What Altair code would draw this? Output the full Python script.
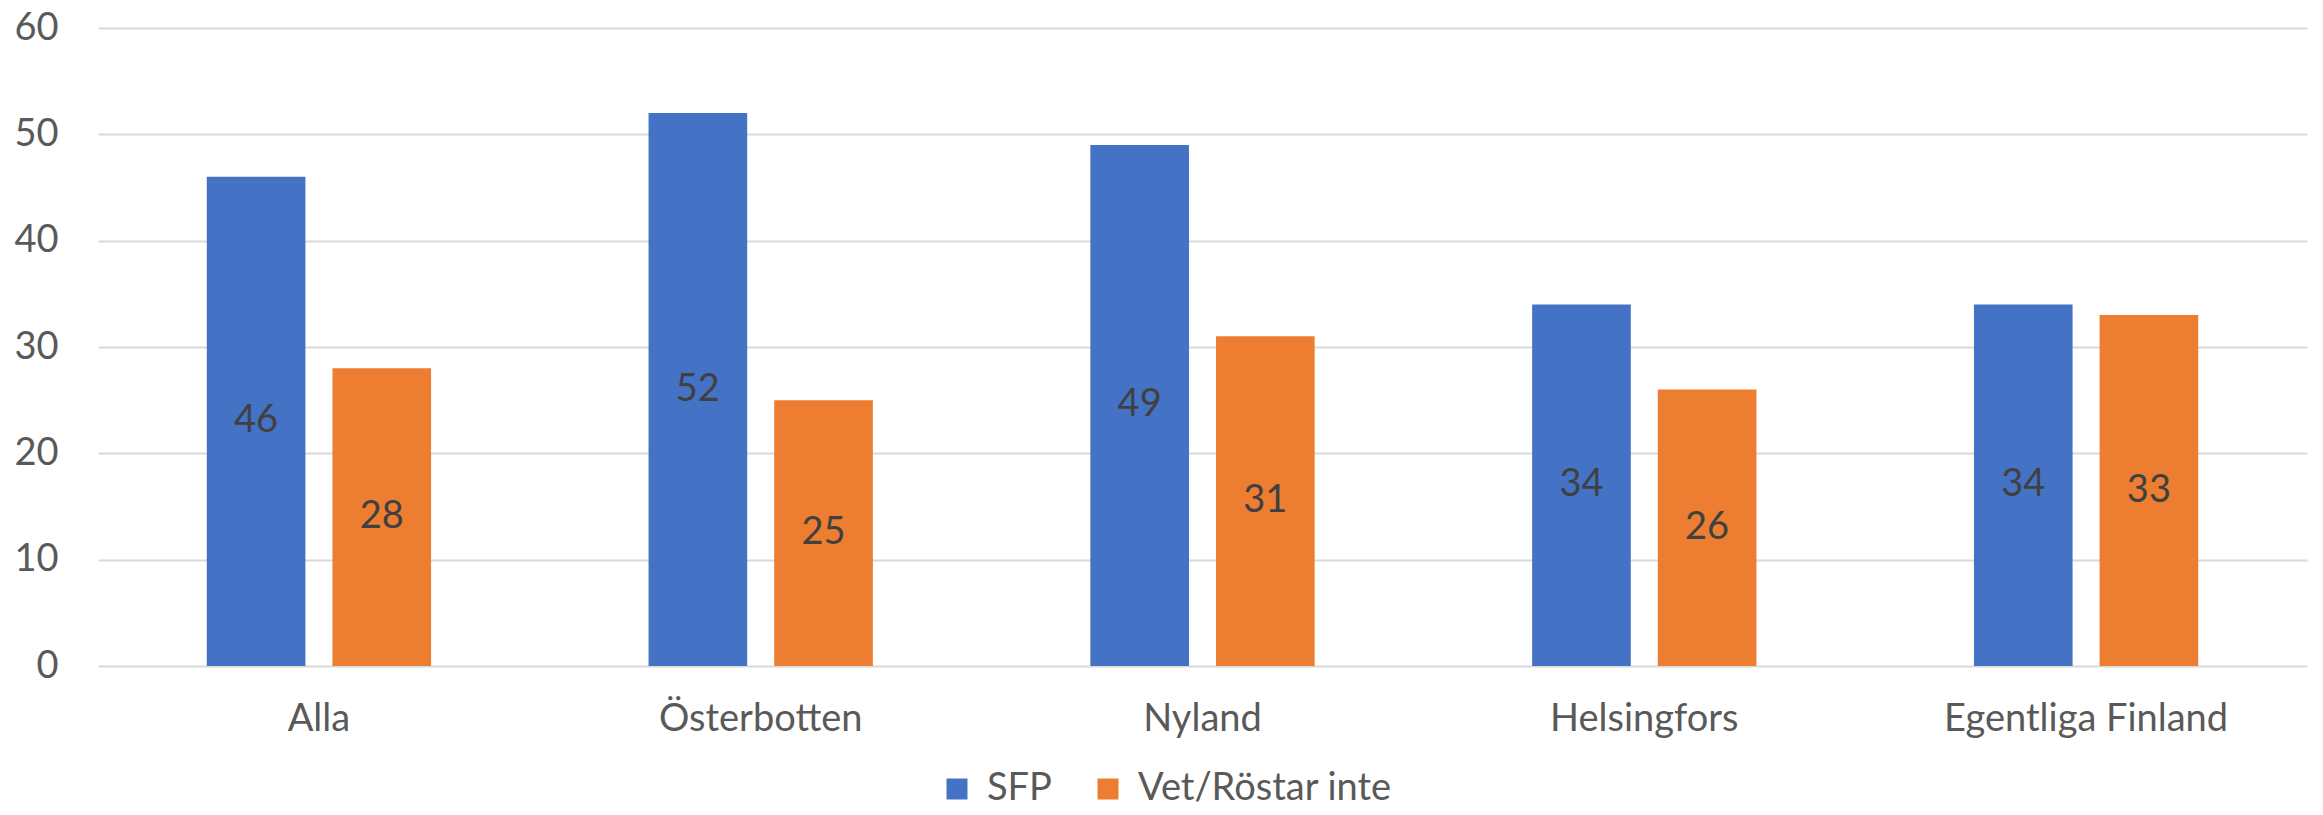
import altair as alt
import pandas as pd

categories = ["Alla", "Österbotten", "Nyland", "Helsingfors", "Egentliga Finland"]
series = ["SFP", "Vet/Röstar inte"]
sfp = [46, 52, 49, 34, 34]
vet = [28, 25, 31, 26, 33]
y_ticks = [0, 10, 20, 30, 40, 50, 60]
colors = ["#4472C4", "#ED7D31"]

rows = []
for c, a, b in zip(categories, sfp, vet):
    rows.append({"region": c, "serie": series[0], "value": a})
    rows.append({"region": c, "serie": series[1], "value": b})
df = pd.DataFrame(rows)

FONT = "Lato"
FS = 38

x = alt.X("region:N", sort=categories, title=None,
          scale=alt.Scale(paddingInner=0.4923, paddingOuter=0.2462),
          axis=alt.Axis(labelAngle=0, labelFontSize=FS, labelColor="#595959",
                        labelFont=FONT, labelPadding=34, ticks=False,
                        domain=False, grid=False, labelLimit=0))
xo = alt.XOffset("serie:N", sort=series,
                 scale=alt.Scale(paddingInner=0.215, paddingOuter=0))
color = alt.Color("serie:N", sort=series,
                  scale=alt.Scale(domain=series, range=colors),
                  legend=alt.Legend(title=None, orient="none", legendX=840, legendY=742,
                                    direction="horizontal", symbolType="square",
                                    symbolSize=441, symbolStrokeWidth=0,
                                    labelFontSize=FS, labelFont=FONT,
                                    labelColor="#595959", columnPadding=37,
                                    padding=0, labelOffset=11, labelLimit=0))

bars = alt.Chart(df).mark_bar().encode(
    x=x, xOffset=xo,
    y=alt.Y("value:Q", title=None,
            scale=alt.Scale(domain=[0, 60], nice=False),
            axis=alt.Axis(values=y_ticks, title=None, ticks=False, domain=False,
                          gridColor="#d9d9d9", gridWidth=2, labelFontSize=FS,
                          labelColor="#595959", labelFont=FONT, labelPadding=40)),
    color=color,
)

text = alt.Chart(df).transform_calculate(mid="datum.value/2").mark_text(
    fontSize=FS, font=FONT, color="#404040", baseline="middle"
).encode(
    x=x, xOffset=xo,
    y=alt.Y("mid:Q", title=None),
    text="value:Q",
)

chart = alt.layer(bars, text).properties(
    width=2209, height=638,
    autosize=alt.AutoSizeParams(type="none"),
    padding={"left": 90, "top": 20, "right": 8, "bottom": 141},
    background="white",
).configure_view(stroke=None)

chart.save("out.html", embed_options={"renderer": "svg", "actions": False})
